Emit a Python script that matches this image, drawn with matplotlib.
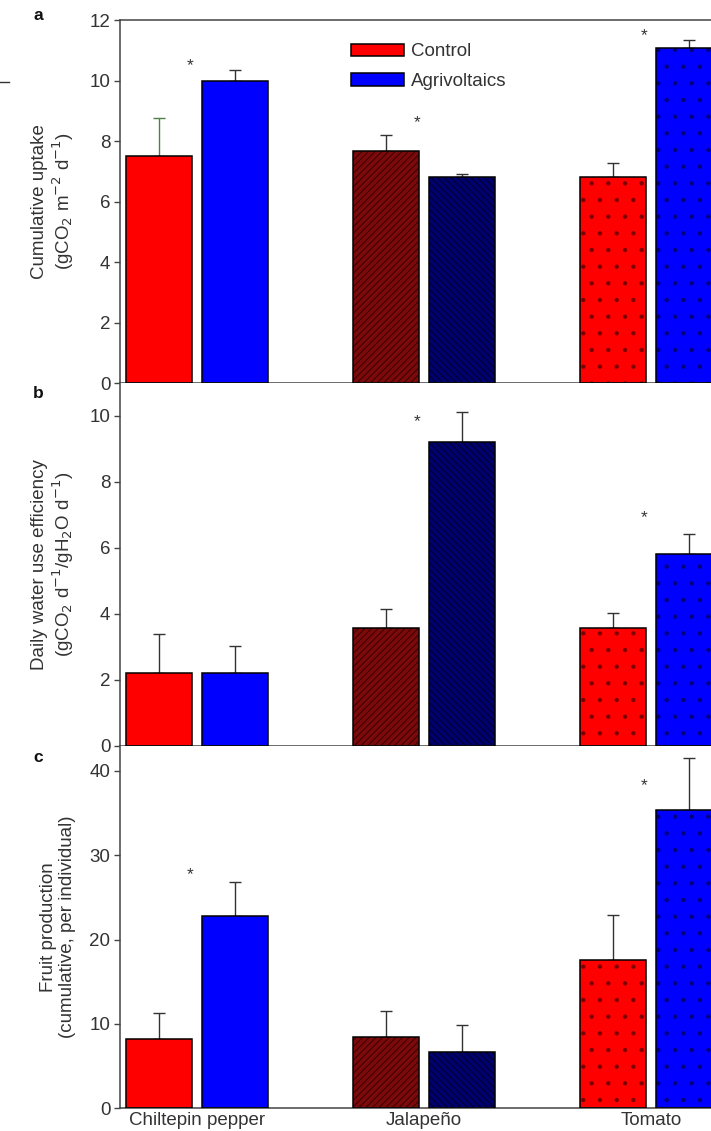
import numpy as np
import matplotlib
matplotlib.use("Agg")
import matplotlib.pyplot as plt
from matplotlib.lines import Line2D

plt.rcParams['font.family'] = ['Liberation Sans', 'DejaVu Sans']
plt.rcParams['hatch.linewidth'] = 0.7

crops = ["Chiltepin pepper", "Jalapeño", "Tomato"]
groups = ["Control", "Agrivoltaics"]

# (a) cumulative CO2 uptake
uptake_control = [7.5, 7.67, 6.8]
uptake_control_err = [1.26, 0.53, 0.47]
uptake_agri = [10.0, 6.8, 11.1]
uptake_agri_err = [0.35, 0.1, 0.24]
uptake_stars = [10.5, 8.6, 11.5]          # None = no asterisk

# (b) daily water use efficiency
wue_control = [2.2, 3.58, 3.56]
wue_control_err = [1.2, 0.56, 0.46]
wue_agri = [2.21, 9.2, 5.81]
wue_agri_err = [0.8, 0.91, 0.62]
wue_stars = [None, 9.83, 6.92]

# (c) fruit production
fruit_control = [8.2, 8.47, 17.6]
fruit_control_err = [3.1, 3.1, 5.3]
fruit_agri = [22.8, 6.7, 35.4]
fruit_agri_err = [4.0, 3.2, 6.1]
fruit_stars = [27.7, None, 38.3]

control_colors = ["#ff0000", "#7d0a0a", "#ff0000"]
agri_colors = ["#0000ff", "#00006e", "#0000ff"]
control_hatch = [None, "/////", "."]
agri_hatch = [None, "\\\\\\\\\\", "."]
control_hatch_col = ["none", "#3a0000", "#7a0000"]
agri_hatch_col = ["none", "#00002a", "#00007a"]

TXT = "#333333"
AX = "#444444"
FS = 13.5

W, H = 711, 1131
fig = plt.figure(figsize=(W / 100, H / 100), dpi=100)

left = 120 / W
width = 608 / W
panel_h = 362.7 / H
bottoms = [1 - 383 / H, 1 - 745.7 / H, 1 - 1108.3 / H]
letter_y = [15, 393, 757]

panels = [
    dict(c=uptake_control, ce=uptake_control_err, a=uptake_agri, ae=uptake_agri_err,
         stars=uptake_stars, ylim=(0, 12), ticks=np.arange(0, 13, 2),
         ylabel="Cumulative uptake\n(gCO$_2$ m$^{-2}$ d$^{-1}$)", letter="a"),
    dict(c=wue_control, ce=wue_control_err, a=wue_agri, ae=wue_agri_err,
         stars=wue_stars, ylim=(0, 11), ticks=np.arange(0, 11, 2),
         ylabel="Daily water use efficiency\n(gCO$_2$ d$^{-1}$/gH$_2$O d$^{-1}$)", letter="b"),
    dict(c=fruit_control, ce=fruit_control_err, a=fruit_agri, ae=fruit_agri_err,
         stars=fruit_stars, ylim=(0, 43), ticks=np.arange(0, 41, 10),
         ylabel="Fruit production\n(cumulative, per individual)", letter="c"),
]

x = np.arange(len(crops))
off = 0.167
bw = 0.29


def hatched_bar(ax, xpos, h, color, hatch, hcol, label=None):
    # fill + hatch in its own colour, then a black outline on top
    ax.bar(xpos, h, bw, color=color, edgecolor=hcol, linewidth=0, hatch=hatch, zorder=2)
    ax.bar(xpos, h, bw, color="none", edgecolor="black", linewidth=1.1, zorder=3)
    if label is not None:
        return ax.bar([np.nan], [np.nan], bw, color=color, edgecolor="black",
                      linewidth=1.1, label=label)


for i, p in enumerate(panels):
    ax = fig.add_axes([left, bottoms[i], width, panel_h])
    ax.set_xlim(-0.34, 2.34)
    ax.set_ylim(*p["ylim"])
    for k in range(len(crops)):
        hatched_bar(ax, x[k] - off, p["c"][k], control_colors[k], control_hatch[k],
                    control_hatch_col[k], groups[0] if k == 0 else None)
        hatched_bar(ax, x[k] + off, p["a"][k], agri_colors[k], agri_hatch[k],
                    agri_hatch_col[k], groups[1] if k == 0 else None)
        ecol = "#4f7f4f" if (i == 0 and k == 0) else "#333333"
        ax.errorbar(x[k] - off, p["c"][k], yerr=[[0], [p["ce"][k]]], fmt="none",
                    ecolor=ecol, elinewidth=1.0, capsize=4.5, capthick=1.0, zorder=1)
        ax.errorbar(x[k] + off, p["a"][k], yerr=[[0], [p["ae"][k]]], fmt="none",
                    ecolor="#333333", elinewidth=1.0, capsize=4.5, capthick=1.0, zorder=1)
        if p["stars"][k] is not None:
            ax.text(x[k] - 0.03, p["stars"][k], "*", ha="center", va="center",
                    fontsize=FS - 1, color=TXT)

    ax.set_yticks(p["ticks"])
    ax.tick_params(axis="y", direction="out", length=4, width=1, colors=AX,
                   labelcolor=TXT, labelsize=FS, pad=3)
    ax.spines["right"].set_visible(False)
    ax.spines["top"].set_visible(i == 0)
    for s in ["left", "bottom", "top"]:
        ax.spines[s].set_color(AX)
        ax.spines[s].set_linewidth(1.1)
    if i < 2:
        ax.set_xticks([])
    else:
        ax.set_xticks(x)
        ax.set_xticklabels(crops)
        ax.tick_params(axis="x", length=0, pad=3, labelsize=FS, labelcolor=TXT)
    ax.set_ylabel(p["ylabel"], fontsize=FS, color=TXT, linespacing=1.15)
    ax.yaxis.set_label_coords(-0.072, 0.5)
    fig.text(33 / W, 1 - letter_y[i] / H, p["letter"], fontsize=12.5,
             fontweight="bold", color="#111111", ha="left", va="center")
    if i == 0:
        ax.legend(loc="upper left", bbox_to_anchor=(0.365, 0.962), frameon=False,
                  fontsize=FS, handlelength=2.8, handleheight=0.65,
                  handletextpad=0.4, labelspacing=0.68, borderpad=0,
                  labelcolor=TXT)

fig.add_artist(Line2D([0, 9 / W], [1 - 82 / H, 1 - 82 / H], color="#333333", lw=1))

fig.savefig("out.png", dpi=100)
